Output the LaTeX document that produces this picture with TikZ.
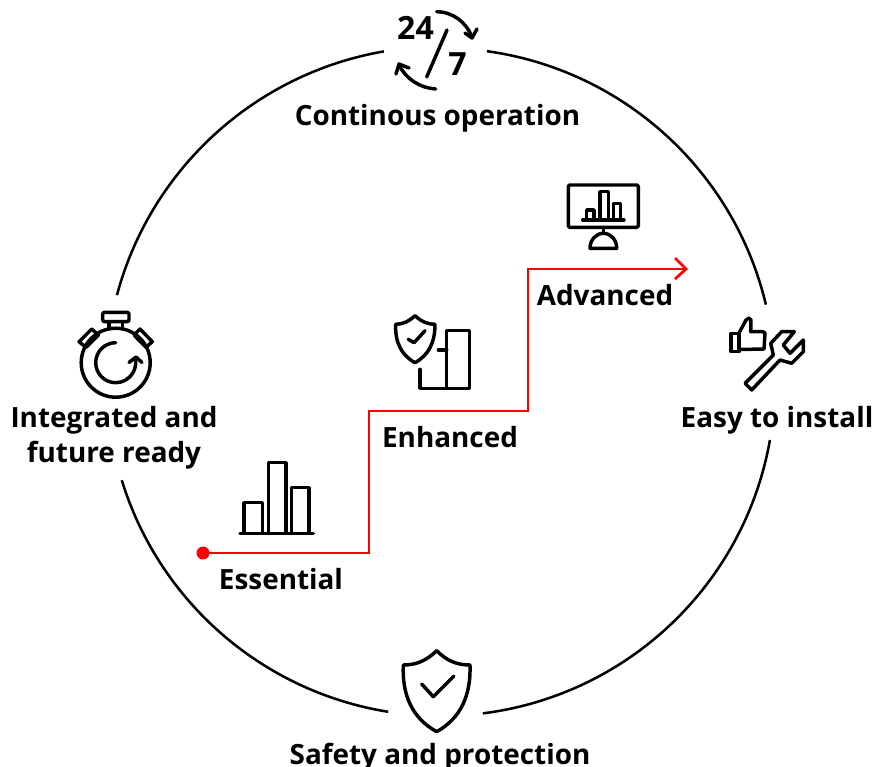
\documentclass[tikz,border=0pt]{standalone}
\usepackage{fontspec}
\setmainfont{Open Sans}
\usetikzlibrary{calc}
\definecolor{redline}{HTML}{FF0000}
\tikzset{
  x=0.75pt,y=-0.75pt,
  ring/.style={line width=1.9pt,black},
  icon/.style={line width=2.6pt,black,line join=round,line cap=round},
  redpath/.style={line width=2.1pt,redline,line join=miter},
  lab/.style={font=\fontsize{20.9pt}{23pt}\selectfont\bfseries,anchor=base,inner sep=0pt,text=black},
  num/.style={lab,font=\fontsize{24pt}{26pt}\selectfont\bfseries}
}
\begin{document}
\begin{tikzpicture}
\useasboundingbox (0,0) rectangle (889,767);
\coordinate (c) at (441,382);
% ring
\draw[ring] ($(c)+(-82.1:334)$) arc[start angle=-82.1,end angle=-13.4,radius=334];
\draw[ring] ($(c)+(10:334)$) arc[start angle=10,end angle=82.8,radius=334];
\draw[ring] ($(c)+(99.1:334)$) arc[start angle=99.1,end angle=162.9,radius=334];
\draw[ring] ($(c)+(195:335.5)$) arc[start angle=195,end angle=260.2,radius=335.5];
% labels
\node[lab] (cont) at (437.5,125) {Continous operation};
\node[lab] (integ) at (114,427) {Integrated and};
\node[lab] (future) at (114,462) {future ready};
\node[lab] (easy) at (777,427) {Easy to install};
\node[lab] (safety) at (440,764) {Safety and protection};
\node[lab] (essential) at (281,589) {Essential};
\node[lab] (enhanced) at (450,447) {Enhanced};
\node[lab] (advanced) at (605,305) {Advanced};
\node[num] (n24) at (415.5,40) {24};
\node[num] (n7) at (457.5,76) {7};
% 24/7 marks
\draw[icon] (447,30) -- (426.7,77);
\draw[icon] (436.7,11.7) .. controls (453,12) and (466,22) .. (472,37);
\draw[icon] (465,33) -- (472,38) -- (477,29);
\draw[icon] (435.7,89) .. controls (420,88) and (406,79) .. (399,65);
\draw[icon] (409,68) -- (399,64) -- (396,74);
% stopwatch
\draw[icon] (115.7,362.7) circle[radius=34.5];
\draw[icon,rounded corners=1.5pt] (102.7,312.3) rectangle (129,321.7);
\draw[icon] (109,321.7) -- (109,329) (122.3,321.7) -- (122.3,329);
\draw[icon] (91.7,329) -- (79,341.7) -- (86,347.3) -- (98.3,335) -- cycle;
\draw[icon] (140,329) -- (152.3,341.7) -- (146,347.3) -- (134,335) -- cycle;
\draw[icon] (115.7,342.7) arc[start angle=-90,end angle=-270,radius=20] arc[start angle=90,end angle=-10,radius=20];
\draw[icon] (129,362.5) -- (136,357) -- (142,362.5);
% thumb
\draw[icon] (731,333.3) rectangle (739,351.7);
\draw[icon] (739,333) -- (746,320) -- (749,318) -- (751,320) -- (750.7,331.7) -- (763,331.7) -- (765,333) -- (764,349) -- (739,349.5);
% wrench
\draw[icon] (745,383.3) -- (773.3,355) -- (770.7,343.3) -- (781.7,331.7) -- (794.3,331.7) -- (783.3,345) -- (790,353.3) -- (803.3,340) -- (803.3,351.7) -- (791.7,363.3) -- (780,360) -- (751.7,390) -- cycle;
% small shield and bars
\draw[icon] (415,315.7) .. controls (408,322) and (403,324) .. (395.7,324.3) .. controls (395,342) and (401,355) .. (415,362.7) .. controls (429,355) and (435,342) .. (435,324.3) .. controls (427,324) and (422,322) .. (415,315.7) -- cycle;
\draw[icon] (408.3,339.3) -- (414,342.7) -- (425,330.7);
\draw[icon] (420,369.3) -- (420,388.3) -- (469.3,388.3) -- (469.3,330.7) -- (446.7,330.7) -- (446.7,388.3);
\draw[icon] (438.3,350) -- (446.7,350);
% monitor
\draw[icon,rounded corners=1pt] (568.3,185) rectangle (638.3,227.3);
\draw[icon] (603.3,227.3) -- (603.3,233.3);
\draw[icon] (590,248.3) -- (616.7,248.3) .. controls (616.7,240) and (611,233.3) .. (603.3,233.3) .. controls (596,233.3) and (590,240) .. (590,248.3) -- cycle;
\draw[icon] (582.7,220) -- (624,220);
\draw[icon] (586.7,220) -- (586.7,210) -- (594,210) -- (594,220);
\draw[icon] (600,220) -- (600,191.7) -- (608.3,191.7) -- (608.3,220);
\draw[icon] (613.3,220) -- (613.3,203.3) -- (620.7,203.3) -- (620.7,220);
% essential bars
\draw[icon] (240,533.3) -- (313.3,533.3);
\draw[icon] (244,533.3) -- (244,502.7) -- (262.3,502.7) -- (262.3,533.3);
\draw[icon] (268.3,533.3) -- (268.3,462.7) -- (286,462.7) -- (286,533.3);
\draw[icon] (291.7,533.3) -- (291.7,487.7) -- (309,487.7) -- (309,533.3);
% big shield
\draw[icon] (436.7,650.7) .. controls (426,661) and (416,665) .. (403.3,665) .. controls (402,695) and (412,718) .. (436.7,731.7) .. controls (461,718) and (471,695) .. (470,665) .. controls (457,665) and (447,661) .. (436.7,650.7) -- cycle;
\draw[icon] (421.7,684) -- (433.3,696.7) -- (454,676);
% red stepped line
\coordinate (start) at (203,553);
\coordinate (tip) at (686,269);
\fill[redline] (start) circle[radius=6.5];
\draw[redpath] (start) -- (369,553) -- (369,411) -- (528,411) -- (528,269) -- (tip);
\draw[redpath] (675,258) -- (tip) -- (675,279);
\end{tikzpicture}
\end{document}
